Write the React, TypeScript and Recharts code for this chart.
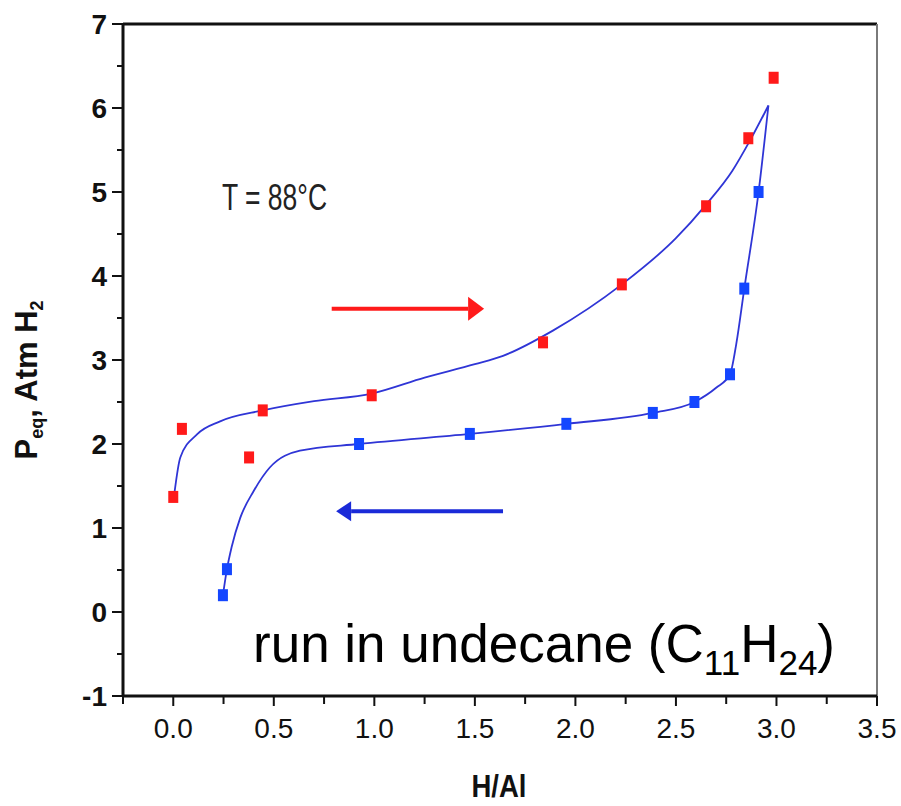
import React from "react";
import {
  ComposedChart,
  Line,
  Scatter,
  XAxis,
  YAxis,
  ReferenceLine,
} from "recharts";

// absorption (red) and desorption (blue) measured points
const absorbX = [0.0, 0.043, 0.377, 0.445, 0.987, 1.839, 2.231, 2.65, 2.86, 2.986];
const absorbY = [1.37, 2.18, 1.84, 2.4, 2.58, 3.21, 3.9, 4.83, 5.64, 6.36];
const desorbX = [0.247, 0.267, 0.924, 1.475, 1.955, 2.385, 2.592, 2.769, 2.84, 2.911];
const desorbY = [0.2, 0.51, 2.0, 2.12, 2.24, 2.37, 2.5, 2.83, 3.85, 5.0];

// fitted loop, upper and lower branch
const upperFitX = [0.006, 0.035, 0.118, 0.233, 0.445, 0.7, 0.987, 1.25, 1.5, 1.64, 1.888, 2.231, 2.5, 2.65, 2.78, 2.87, 2.96];
const upperFitY = [1.42, 1.84, 2.115, 2.27, 2.4, 2.51, 2.6, 2.79, 2.95, 3.05, 3.35, 3.9, 4.45, 4.85, 5.25, 5.62, 6.03];
const lowerFitX = [0.247, 0.267, 0.29, 0.333, 0.4, 0.48, 0.63, 0.924, 1.475, 1.955, 2.385, 2.592, 2.7, 2.769, 2.8, 2.84, 2.911, 2.96];
const lowerFitY = [0.2, 0.51, 0.77, 1.12, 1.44, 1.72, 1.92, 2.0, 2.12, 2.24, 2.37, 2.5, 2.67, 2.83, 3.19, 3.85, 5.0, 6.03];

const xTicks = [-0.25, 0, 0.25, 0.5, 0.75, 1, 1.25, 1.5, 1.75, 2, 2.25, 2.5, 2.75, 3, 3.25, 3.5];
const yTicks = [-1, -0.5, 0, 0.5, 1, 1.5, 2, 2.5, 3, 3.5, 4, 4.5, 5, 5.5, 6, 6.5, 7];

const zip = (xs: number[], ys: number[]) => xs.map((x, i) => ({ x, y: ys[i] }));

const absorbPts = zip(absorbX, absorbY);
const desorbPts = zip(desorbX, desorbY);
const upperFit = zip(upperFitX, upperFitY);
const lowerFit = zip(lowerFitX, lowerFitY);

const FONT = "'Liberation Sans', Arial, sans-serif";
const RED = "#ff1a1a";
const BLUE = "#1446ff";

const isMajor = (v: number, step: number) =>
  Math.abs(v / step - Math.round(v / step)) < 1e-6;

function XTick(props: any) {
  const { x, y, payload } = props;
  const major = isMajor(payload.value, 0.5);
  return (
    <g>
      <line x1={x} x2={x} y1={y} y2={y + (major ? 10 : 8)} stroke="#111" strokeWidth={2} />
      {major && (
        <text x={x} y={y + 42} textAnchor="middle" fontSize={28} fontFamily={FONT} fill="#111">
          {payload.value.toFixed(1)}
        </text>
      )}
    </g>
  );
}

function YTick(props: any) {
  const { x, y, payload } = props;
  const major = isMajor(payload.value, 1);
  return (
    <g>
      <line x1={x - (major ? 11 : 6)} x2={x} y1={y} y2={y} stroke="#111" strokeWidth={2} />
      {major && (
        <text x={x - 16} y={y + 10} textAnchor="end" fontSize={28} fontWeight="bold" fontFamily={FONT} fill="#111">
          {payload.value}
        </text>
      )}
    </g>
  );
}

const square = (color: string) => (props: any) =>
  <rect x={props.cx - 5} y={props.cy - 6} width={10} height={12} fill={color} />;

const arrow = (color: string, width: number, headLen: number, headHalf: number) => (p: any) => {
  const dir = p.x2 > p.x1 ? 1 : -1;
  const bx = p.x2 - dir * headLen;
  return (
    <g>
      <line x1={p.x1} y1={p.y1} x2={bx} y2={p.y2} stroke={color} strokeWidth={width} />
      <polygon points={`${p.x2},${p.y2} ${bx},${p.y2 - headHalf} ${bx},${p.y2 + headHalf}`} fill={color} />
    </g>
  );
};

export default function App() {
  return (
    <div style={{ position: "absolute", left: 0, top: 0, width: 901, height: 806, background: "#fff" }}>
      <ComposedChart width={901} height={806} margin={{ top: 24, right: 24, left: 0, bottom: 0 }}>
        <XAxis
          type="number"
          dataKey="x"
          domain={[-0.25, 3.5]}
          ticks={xTicks}
          interval={0}
          height={110}
          tickSize={0}
          tickMargin={0}
          tickLine={false}
          axisLine={{ stroke: "#111", strokeWidth: 3 }}
          tick={(p: any) => <XTick {...p} />}
          allowDataOverflow
        />
        <YAxis
          type="number"
          domain={[-1, 7]}
          ticks={yTicks}
          interval={0}
          width={123}
          tickSize={0}
          tickMargin={0}
          tickLine={false}
          axisLine={{ stroke: "#111", strokeWidth: 3 }}
          tick={(p: any) => <YTick {...p} />}
          allowDataOverflow
        />
        <ReferenceLine y={7} stroke="#111" strokeWidth={3} />
        <ReferenceLine x={3.5} stroke="#7a7a7a" strokeWidth={2} />
        <ReferenceLine
          segment={[{ x: 0.788, y: 3.61 }, { x: 1.546, y: 3.61 }]}
          shape={arrow(RED, 4, 16, 12)}
        />
        <ReferenceLine
          segment={[{ x: 1.64, y: 1.2 }, { x: 0.81, y: 1.2 }]}
          shape={arrow("#1a2ad8", 4, 15, 10)}
        />
        <Line data={upperFit} dataKey="y" type="monotone" stroke="#2f35d6" strokeWidth={1.8} dot={false} isAnimationActive={false} />
        <Line data={lowerFit} dataKey="y" type="monotone" stroke="#2f35d6" strokeWidth={1.8} dot={false} isAnimationActive={false} />
        <Scatter data={absorbPts} dataKey="y" shape={square(RED)} isAnimationActive={false} />
        <Scatter data={desorbPts} dataKey="y" shape={square(BLUE)} isAnimationActive={false} />
      </ComposedChart>
      <svg width={901} height={806} style={{ position: "absolute", left: 0, top: 0, pointerEvents: "none" }}>
        <text x={222} y={210} fontSize={36} fontFamily={FONT} fill="#222" textLength={105} lengthAdjust="spacingAndGlyphs">
          T = 88°C
        </text>
        <text x={253} y={662} fontSize={53} fontFamily={FONT} fill="#000">
          run in undecane (C<tspan fontSize={35} dy={13}>11</tspan>
          <tspan dy={-13}>H</tspan>
          <tspan fontSize={35} dy={13}>24</tspan>
          <tspan dy={-13}>)</tspan>
        </text>
        <text x={499} y={797} textAnchor="middle" fontSize={32} fontWeight="bold" fontFamily={FONT} fill="#111" textLength={55} lengthAdjust="spacingAndGlyphs">
          H/Al
        </text>
        <text transform="translate(37,380) rotate(-90)" textAnchor="middle" fontSize={31} fontWeight="bold" fontFamily={FONT} fill="#111">
          P<tspan fontSize={18} dy={6}>eq</tspan>
          <tspan dy={-6}>, Atm H</tspan>
          <tspan fontSize={18} dy={6}>2</tspan>
        </text>
      </svg>
    </div>
  );
}
